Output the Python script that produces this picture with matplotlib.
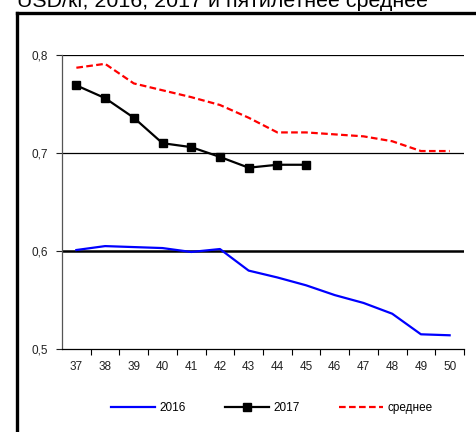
import matplotlib
matplotlib.use("Agg")
import matplotlib.pyplot as plt
from matplotlib.lines import Line2D

# weeks and prices, USD/kg
weeks = ["37", "38", "39", "40", "41", "42", "43", "44", "45", "46", "47", "48", "49", "50"]
price_2016 = [0.601, 0.605, 0.604, 0.603, 0.599, 0.602, 0.580, 0.573, 0.565, 0.555, 0.547, 0.536, 0.515, 0.514]
price_2017 = [0.769, 0.756, 0.736, 0.710, 0.706, 0.696, 0.685, 0.688, 0.688]
price_avg = [0.787, 0.791, 0.771, 0.764, 0.757, 0.749, 0.736, 0.721, 0.721, 0.719, 0.717, 0.712, 0.702, 0.702]
y_ticks = [0.5, 0.6, 0.7, 0.8]
y_labels = ["0,5", "0,6", "0,7", "0,8"]

plt.rcParams["font.family"] = ["Liberation Sans Narrow", "Liberation Sans", "DejaVu Sans"]

W, H = 477, 432
fig = plt.figure(figsize=(W / 100, H / 100), dpi=100)
ax = fig.add_axes([62 / W, 1 - 349 / H, (464 - 62) / W, (349 - 55) / H])

x = list(range(len(weeks)))

# gridlines
ax.axhline(0.7, color="black", lw=0.9, zorder=1)
ax.axhline(0.8, color="black", lw=0.9, zorder=1)
ax.axhline(0.6, color="black", lw=1.8, zorder=1)

ax.plot(x, price_2016, color="#0000ff", lw=1.6, label="2016", zorder=3)
ax.plot(x[:len(price_2017)], price_2017, color="black", lw=1.6, marker="s", markersize=5.5,
        label="2017", zorder=4)
ax.plot(x, price_avg, color="#ff0000", lw=1.6, ls=(0, (3, 1.5)), label="среднее", zorder=3)

ax.set_xlim(-0.5, len(weeks) - 0.5)
ax.set_ylim(0.5, 0.8)
ax.set_xticks(x)
ax.set_xticklabels(weeks)
ax.set_xticks([i + 0.5 for i in x], minor=True)
ax.tick_params(axis="x", which="major", length=0, pad=9, labelsize=8.5, colors="#222222")
ax.tick_params(axis="x", which="minor", length=4, width=0.8, direction="out")
ax.set_yticks(y_ticks)
ax.set_yticklabels(y_labels)
ax.tick_params(axis="y", length=4, width=0.8, direction="out", pad=6, labelsize=8.5, colors="#222222")

for s in ["top", "right"]:
    ax.spines[s].set_visible(False)
ax.spines["left"].set_color("#555555")
ax.spines["left"].set_linewidth(0.9)
ax.spines["bottom"].set_color("black")
ax.spines["bottom"].set_linewidth(0.9)

fig.legend(loc="center", bbox_to_anchor=(272 / W, 1 - 408 / H), ncol=3, frameon=False,
           fontsize=8.5, handlelength=3.7, columnspacing=3.3, handletextpad=0.4)

# outer frame (right and bottom sides are cut off)
fig.add_artist(Line2D([17 / W, 17 / W], [0, 1 - 13 / H], color="black", lw=2.4))
fig.add_artist(Line2D([17 / W, 1], [1 - 13 / H, 1 - 13 / H], color="black", lw=2.4))

# title, mostly cut off at the top
fig.text(17 / W, 1 - 7 / H, "USD/кг, 2016, 2017 и пятилетнее среднее",
         ha="left", va="baseline", fontsize=15.4, family=["Liberation Sans", "DejaVu Sans"])

fig.savefig("out.png", dpi=100)
